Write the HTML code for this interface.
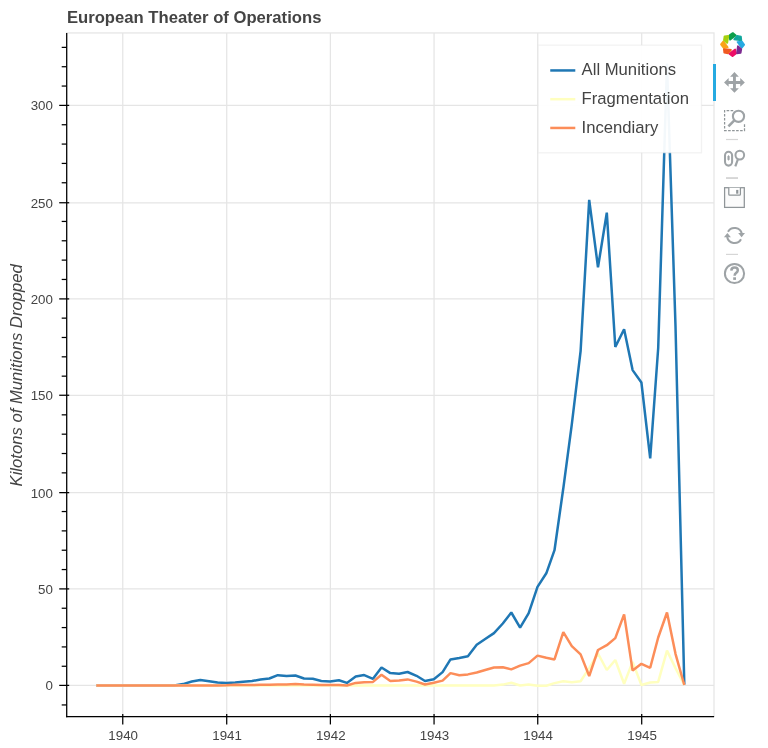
<!DOCTYPE html>
<html><head><meta charset="utf-8"><title>European Theater of Operations</title>
<style>
html,body{margin:0;padding:0;background:#fff;}
body{width:768px;height:748px;overflow:hidden;position:relative;font-family:"Liberation Sans",sans-serif;}
svg text{font-family:"Liberation Sans",sans-serif;}
</style></head><body>
<svg width="768" height="748" viewBox="0 0 768 748" style="position:absolute;left:0;top:0">
<rect width="768" height="748" fill="#fff"/>
<g stroke="#e5e5e5" stroke-width="1.25" fill="none">
<line x1="122.75" y1="32.95" x2="122.75" y2="716.55"/>
<line x1="226.71" y1="32.95" x2="226.71" y2="716.55"/>
<line x1="330.39" y1="32.95" x2="330.39" y2="716.55"/>
<line x1="434.06" y1="32.95" x2="434.06" y2="716.55"/>
<line x1="537.74" y1="32.95" x2="537.74" y2="716.55"/>
<line x1="641.70" y1="32.95" x2="641.70" y2="716.55"/>
<line x1="66.7" y1="685.40" x2="714.0" y2="685.40"/>
<line x1="66.7" y1="588.90" x2="714.0" y2="588.90"/>
<line x1="66.7" y1="492.65" x2="714.0" y2="492.65"/>
<line x1="66.7" y1="395.25" x2="714.0" y2="395.25"/>
<line x1="66.7" y1="298.90" x2="714.0" y2="298.90"/>
<line x1="66.7" y1="202.75" x2="714.0" y2="202.75"/>
<line x1="66.7" y1="105.40" x2="714.0" y2="105.40"/>
</g>
<g fill="none" stroke-width="2.5" stroke-linejoin="bevel" stroke-linecap="butt">
<polyline stroke="#1f77b4" points="96.3,685.6 105.1,685.6 113.7,685.6 122.5,685.6 131.3,685.6 139.5,685.6 148.3,685.6 156.8,685.6 165.6,685.6 174.2,685.5 183.0,684.1 191.8,681.5 200.3,680.0 209.1,681.2 217.6,682.5 226.4,683.1 235.2,682.5 243.2,681.7 252.0,681.0 260.5,679.6 269.3,678.5 277.8,675.2 286.6,676.0 295.4,675.5 304.0,678.5 312.8,678.8 321.3,681.0 330.1,681.5 338.9,680.2 346.9,682.9 355.7,676.6 364.2,675.1 373.0,678.8 381.5,667.5 390.3,673.1 399.1,673.8 407.6,672.0 416.5,675.8 425.0,681.0 433.8,679.3 442.6,672.1 450.5,659.4 459.3,657.9 467.9,656.2 476.7,644.8 485.2,639.0 494.0,633.1 502.8,623.5 511.3,612.5 520.1,627.6 528.7,613.1 537.5,586.9 546.3,573.3 554.5,550.2 563.3,488.3 571.8,424.4 580.6,351.1 589.2,199.9 598.0,267.3 606.8,212.7 615.3,347.0 624.1,329.2 632.6,370.1 641.4,382.5 650.2,458.3 658.2,348.0 667.0,63.6 675.5,326.0 684.3,684.5"/>
<polyline stroke="#ffffbf" points="96.3,685.6 105.1,685.6 113.7,685.6 122.5,685.6 131.3,685.6 139.5,685.6 148.3,685.6 156.8,685.6 165.6,685.6 174.2,685.6 183.0,685.6 191.8,685.6 200.3,685.6 209.1,685.6 217.6,685.6 226.4,685.6 235.2,685.6 243.2,685.6 252.0,685.6 260.5,685.6 269.3,685.6 277.8,685.6 286.6,685.6 295.4,685.6 304.0,685.6 312.8,685.6 321.3,685.6 330.1,685.6 338.9,685.6 346.9,685.6 355.7,685.6 364.2,685.6 373.0,685.6 381.5,685.6 390.3,685.6 399.1,685.6 407.6,685.6 416.5,685.6 425.0,685.6 433.8,685.6 442.6,685.6 450.5,685.6 459.3,685.6 467.9,685.6 476.7,685.6 485.2,685.6 494.0,685.5 502.8,684.6 511.3,682.8 520.1,685.5 528.7,684.4 537.5,685.7 546.3,685.7 554.5,683.1 563.3,681.2 571.8,682.2 580.6,681.2 589.2,668.1 598.0,653.5 606.8,670.0 615.3,660.0 624.1,683.8 632.6,661.9 641.4,685.0 650.2,682.5 658.2,681.9 667.0,650.6 675.5,668.1 684.3,685.0"/>
<polyline stroke="#fc8d59" points="96.3,685.6 105.1,685.6 113.7,685.6 122.5,685.6 131.3,685.6 139.5,685.6 148.3,685.6 156.8,685.6 165.6,685.6 174.2,685.6 183.0,685.6 191.8,685.6 200.3,685.6 209.1,685.6 217.6,685.6 226.4,685.2 235.2,684.7 243.2,685.0 252.0,685.0 260.5,684.8 269.3,684.8 277.8,684.6 286.6,684.5 295.4,684.0 304.0,684.6 312.8,684.8 321.3,685.0 330.1,685.0 338.9,685.0 346.9,685.5 355.7,682.9 364.2,682.2 373.0,681.9 381.5,674.8 390.3,681.0 399.1,680.6 407.6,679.4 416.5,681.6 425.0,684.5 433.8,682.7 442.6,680.6 450.5,673.1 459.3,675.2 467.9,674.4 476.7,672.5 485.2,670.0 494.0,667.5 502.8,667.2 511.3,669.4 520.1,665.6 528.7,663.1 537.5,655.6 546.3,657.8 554.5,659.4 563.3,632.2 571.8,646.2 580.6,654.4 589.2,676.0 598.0,650.0 606.8,645.2 615.3,638.1 624.1,614.4 632.6,670.6 641.4,663.8 650.2,667.8 658.2,637.5 667.0,612.5 675.5,653.8 684.3,685.0"/>
</g>
<rect x="66.7" y="32.95" width="647.3" height="683.5999999999999" fill="none" stroke="#e5e5e5" stroke-width="1.25"/>
<rect x="538.2" y="45.15" width="163.25" height="107.65" fill="#fff" fill-opacity="0.95" stroke="#e5e5e5" stroke-opacity="0.5" stroke-width="1.25"/>
<line x1="550.25" y1="70.45" x2="575.3" y2="70.45" stroke="#1f77b4" stroke-width="2.5"/>
<text x="581.6" y="75" font-size="16.67" fill="#444">All Munitions</text>
<line x1="550.25" y1="99.2" x2="575.3" y2="99.2" stroke="#ffffbf" stroke-width="2.5"/>
<text x="581.6" y="104" font-size="16.67" fill="#444">Fragmentation</text>
<line x1="550.25" y1="127.95" x2="575.3" y2="127.95" stroke="#fc8d59" stroke-width="2.5"/>
<text x="581.6" y="133" font-size="16.67" fill="#444">Incendiary</text>
<g stroke="#000" stroke-width="1.25" fill="none">
<line x1="66.7" y1="32.95" x2="66.7" y2="717.15"/>
<line x1="66.10000000000001" y1="716.55" x2="714.1" y2="716.55"/>
<line x1="122.75" y1="714.05" x2="122.75" y2="724.4499999999999"/>
<line x1="226.71" y1="714.05" x2="226.71" y2="724.4499999999999"/>
<line x1="330.39" y1="714.05" x2="330.39" y2="724.4499999999999"/>
<line x1="434.06" y1="714.05" x2="434.06" y2="724.4499999999999"/>
<line x1="537.74" y1="714.05" x2="537.74" y2="724.4499999999999"/>
<line x1="641.70" y1="714.05" x2="641.70" y2="724.4499999999999"/>
<line x1="59.2" y1="685.40" x2="69.2" y2="685.40"/>
<line x1="59.2" y1="588.90" x2="69.2" y2="588.90"/>
<line x1="59.2" y1="492.65" x2="69.2" y2="492.65"/>
<line x1="59.2" y1="395.25" x2="69.2" y2="395.25"/>
<line x1="59.2" y1="298.90" x2="69.2" y2="298.90"/>
<line x1="59.2" y1="202.75" x2="69.2" y2="202.75"/>
<line x1="59.2" y1="105.40" x2="69.2" y2="105.40"/>
<line x1="61.7" y1="704.94" x2="66.7" y2="704.94"/>
<line x1="61.7" y1="666.26" x2="66.7" y2="666.26"/>
<line x1="61.7" y1="646.92" x2="66.7" y2="646.92"/>
<line x1="61.7" y1="627.58" x2="66.7" y2="627.58"/>
<line x1="61.7" y1="608.24" x2="66.7" y2="608.24"/>
<line x1="61.7" y1="569.56" x2="66.7" y2="569.56"/>
<line x1="61.7" y1="550.22" x2="66.7" y2="550.22"/>
<line x1="61.7" y1="530.88" x2="66.7" y2="530.88"/>
<line x1="61.7" y1="511.54" x2="66.7" y2="511.54"/>
<line x1="61.7" y1="472.86" x2="66.7" y2="472.86"/>
<line x1="61.7" y1="453.52" x2="66.7" y2="453.52"/>
<line x1="61.7" y1="434.18" x2="66.7" y2="434.18"/>
<line x1="61.7" y1="414.84" x2="66.7" y2="414.84"/>
<line x1="61.7" y1="376.16" x2="66.7" y2="376.16"/>
<line x1="61.7" y1="356.82" x2="66.7" y2="356.82"/>
<line x1="61.7" y1="337.48" x2="66.7" y2="337.48"/>
<line x1="61.7" y1="318.14" x2="66.7" y2="318.14"/>
<line x1="61.7" y1="279.46" x2="66.7" y2="279.46"/>
<line x1="61.7" y1="260.12" x2="66.7" y2="260.12"/>
<line x1="61.7" y1="240.78" x2="66.7" y2="240.78"/>
<line x1="61.7" y1="221.44" x2="66.7" y2="221.44"/>
<line x1="61.7" y1="182.76" x2="66.7" y2="182.76"/>
<line x1="61.7" y1="163.42" x2="66.7" y2="163.42"/>
<line x1="61.7" y1="144.08" x2="66.7" y2="144.08"/>
<line x1="61.7" y1="124.74" x2="66.7" y2="124.74"/>
<line x1="61.7" y1="86.06" x2="66.7" y2="86.06"/>
<line x1="61.7" y1="66.72" x2="66.7" y2="66.72"/>
<line x1="61.7" y1="47.38" x2="66.7" y2="47.38"/>
</g>
<g font-size="13.33" fill="#444">
<text x="123.15" y="740.4" text-anchor="middle">1940</text>
<text x="227.11" y="740.4" text-anchor="middle">1941</text>
<text x="330.79" y="740.4" text-anchor="middle">1942</text>
<text x="434.46" y="740.4" text-anchor="middle">1943</text>
<text x="538.14" y="740.4" text-anchor="middle">1944</text>
<text x="642.10" y="740.4" text-anchor="middle">1945</text>
<text x="52.9" y="690" text-anchor="end">0</text>
<text x="52.9" y="594" text-anchor="end">50</text>
<text x="52.9" y="498" text-anchor="end">100</text>
<text x="52.9" y="400" text-anchor="end">150</text>
<text x="52.9" y="304" text-anchor="end">200</text>
<text x="52.9" y="208" text-anchor="end">250</text>
<text x="52.9" y="110" text-anchor="end">300</text>
</g>
<text x="66.9" y="22.8" font-size="16.67" font-weight="bold" fill="#444">European Theater of Operations</text>
<text transform="translate(21.5,375.35) rotate(-90)" text-anchor="middle" font-size="16.67" font-style="italic" fill="#444">Kilotons of Munitions Dropped</text>
<g id="toolbar">
<rect x="713" y="64" width="3" height="37" fill="#26aae1"/>
<g fill="#d6d6d6"><rect x="726" y="138.9" width="12" height="1.2"/><rect x="726" y="177.1" width="12" height="1.9"/><rect x="726" y="253.8" width="12" height="1.2"/></g>
<defs><filter id="lb" x="-20%" y="-20%" width="140%" height="140%"><feGaussianBlur stdDeviation="0.35"/></filter></defs>
<g transform="translate(732.6,44.6)" stroke-linejoin="round" filter="url(#lb)">
<polygon transform="rotate(0)" points="-3.0,-9.3 0.2,-11.6 3.2,-9.2 -2.6,-4.9" fill="#0a9f4b" stroke="#0a9f4b" stroke-width="1.7"/>
<polygon transform="rotate(45)" points="-3.0,-9.3 0.2,-11.6 3.2,-9.2 -2.6,-4.9" fill="#12a79d" stroke="#12a79d" stroke-width="1.7"/>
<polygon transform="rotate(90)" points="-3.0,-9.3 0.2,-11.6 3.2,-9.2 -2.6,-4.9" fill="#27a9e1" stroke="#27a9e1" stroke-width="1.7"/>
<polygon transform="rotate(135)" points="-3.0,-9.3 0.2,-11.6 3.2,-9.2 -2.6,-4.9" fill="#7b2a90" stroke="#7b2a90" stroke-width="1.7"/>
<polygon transform="rotate(180)" points="-3.0,-9.3 0.2,-11.6 3.2,-9.2 -2.6,-4.9" fill="#ec1166" stroke="#ec1166" stroke-width="1.7"/>
<polygon transform="rotate(225)" points="-3.0,-9.3 0.2,-11.6 3.2,-9.2 -2.6,-4.9" fill="#f15a22" stroke="#f15a22" stroke-width="1.7"/>
<polygon transform="rotate(270)" points="-3.0,-9.3 0.2,-11.6 3.2,-9.2 -2.6,-4.9" fill="#faa31a" stroke="#faa31a" stroke-width="1.7"/>
<polygon transform="rotate(315)" points="-3.0,-9.3 0.2,-11.6 3.2,-9.2 -2.6,-4.9" fill="#a5d10f" stroke="#a5d10f" stroke-width="1.7"/>
</g>
<polygon transform="translate(734.45,82.45)" fill="#9ea3a6" points="0,-10.4 4.4,-5.8 1.45,-5.8 1.45,-1.45 5.8,-1.45 5.8,-4.4 10.4,0 5.8,4.4 5.8,1.45 1.45,1.45 1.45,5.8 4.4,5.8 0,10.4 -4.4,5.8 -1.45,5.8 -1.45,1.45 -5.8,1.45 -5.8,4.4 -10.4,0 -5.8,-4.4 -5.8,-1.45 -1.45,-1.45 -1.45,-5.8 -4.4,-5.8"/>
<g fill="none" stroke="#9ea3a6">
<path d="M733.2,110.6 H724.6 V130.5 H744.5 V123.6" stroke-width="1.25" stroke-dasharray="2.6 1.4" stroke="#8f9598"/>
<circle cx="738.5" cy="116.3" r="5.6" stroke-width="2.1"/>
<line x1="734.6" y1="120.2" x2="728.4" y2="126.4" stroke-width="2.6"/>
</g>
<g fill="none" stroke="#9ea3a6">
<rect x="725" y="151.8" width="7.1" height="13.8" rx="3.55" ry="3.8" stroke-width="2.05"/>
<circle cx="739.8" cy="155.1" r="4.35" stroke-width="2.0"/>
<line x1="737.9" y1="159.4" x2="735.3" y2="166.4" stroke-width="2.2"/>
</g>
<path d="M728.55,155.1 l1.6,2.1 h-3.2 z M728.55,160.8 l1.6,-2.1 h-3.2 z M727.6,157.2 h1.9 v1.5 h-1.9 z" fill="#9ea3a6"/>
<g fill="none" stroke="#8f9598" stroke-width="1.25">
<rect x="724.6" y="187.7" width="19.7" height="19.7" fill="#fbfbfb"/>
<path d="M728.8,187.7 V194.2 Q728.8,195.2 729.8,195.2 H739.4 Q740.4,195.2 740.4,194.2 V187.7" fill="#fff"/>
</g>
<rect x="736.15" y="189.9" width="2.2" height="3.8" fill="#8f9598"/>
<g fill="none" stroke="#9ea3a6" stroke-width="2.1">
<path d="M728.00,231.75 A7.5,7.5 0 0 1 741.84,233.94"/>
<path d="M741.00,239.25 A7.5,7.5 0 0 1 727.16,237.06"/>
</g>
<polygon points="738.2,233.1 745,233.1 741.6,237.2" fill="#9ea3a6"/>
<polygon points="723.9,237.3 730.9,237.3 727.4,233" fill="#9ea3a6"/>
<circle cx="734.5" cy="273.5" r="9.6" fill="none" stroke="#9ea3a6" stroke-width="2.0"/>
<path d="M731.3,270.6 Q731.5,267.6 734.6,267.6 Q737.8,267.6 737.8,270.3 Q737.8,271.8 736.2,272.9 Q734.6,274 734.6,275.8" fill="none" stroke="#9ea3a6" stroke-width="2.5"/>
<rect x="733.2" y="277.3" width="2.8" height="2.6" fill="#9ea3a6"/>
</g>
</svg>
</body></html>
